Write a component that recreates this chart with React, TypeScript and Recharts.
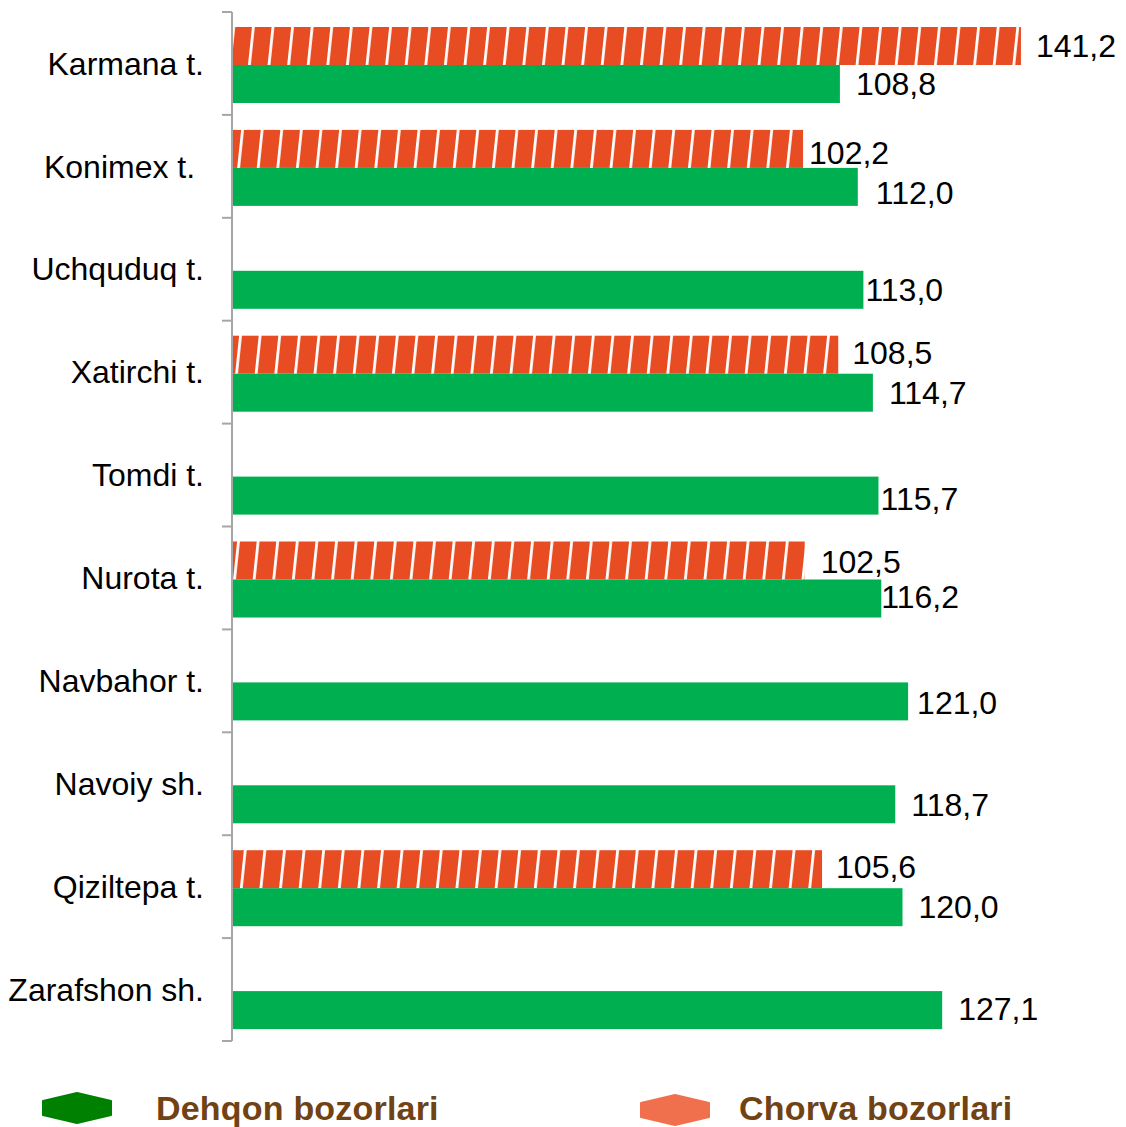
import React from "react";
import { Bar, BarChart, LabelList, Legend, XAxis, YAxis } from "recharts";

const districts = [
  "Karmana t.",
  "Konimex t.\u00A0",
  "Uchquduq t.",
  "Xatirchi t.",
  "Tomdi t.",
  "Nurota t.",
  "Navbahor t.",
  "Navoiy sh.",
  "Qiziltepa t.",
  "Zarafshon sh.",
];
const dehqon = [108.8, 112.0, 113.0, 114.7, 115.7, 116.2, 121.0, 118.7, 120.0, 127.1];
const chorva = [141.2, 102.2, null, 108.5, null, 102.5, null, null, 105.6, null];

const seriesNames = { dehqon: "Dehqon bozorlari", chorva: "Chorva bozorlari" };

// hand-moved data labels in the original, [dx, dy]
const dehqonNudge = [[2, 2], [4, 8], [-12, 2], [2, 2], [-12, 5], [-14, 0], [-5, 3], [2, 2], [2, 2], [2, 1]];
const chorvaNudge = [[1, 2], [-8, 6], [0, 0], [2, 3], [0, 0], [12, 4], [0, 0], [0, 0], [3, 3], [0, 0]];

const data = districts.map((name, i) => ({
  name,
  dehqon: dehqon[i],
  chorva: chorva[i],
}));

const FONT = "'Liberation Sans', Arial, sans-serif";
const W = 1126;
const H = 1127;
const TOP = 12;
const PLOT_BOTTOM = 1041;
const LEGEND_H = 44;
const AXIS_X = 232;
const BAND = (PLOT_BOTTOM - TOP) / districts.length;
const BAR_SHIFT = 2;

const fmt = (v: any) => (v == null ? "" : Number(v).toFixed(1).replace(".", ","));

function CategoryTick(props: any) {
  const { x, y, payload, index } = props;
  const last = index === districts.length - 1;
  return (
    <g>
      <line x1={AXIS_X - 10} x2={AXIS_X} y1={y - BAND / 2} y2={y - BAND / 2} stroke="#A6A6A6" strokeWidth={2} />
      {last && (
        <line x1={AXIS_X - 10} x2={AXIS_X} y1={y + BAND / 2} y2={y + BAND / 2} stroke="#A6A6A6" strokeWidth={2} />
      )}
      <text
        x={x}
        y={y}
        dy="0.35em"
        textAnchor="end"
        fill="#000"
        fontSize={32}
        fontFamily={FONT}
        style={{ whiteSpace: "pre" }}
      >
        {payload.value}
      </text>
    </g>
  );
}

const shiftedBar = (props: any) => {
  const { x, y, width, height, fill } = props;
  if (!width || width <= 0) return <g />;
  return <rect x={x} y={y + BAR_SHIFT} width={width} height={height} fill={fill} />;
};

const makeLabel = (nudge: number[][]) => (props: any) => {
  const { x, y, width, height, value, index } = props;
  if (value == null) return null;
  const [dx, dy] = nudge[index] || [0, 0];
  return (
    <text
      x={x + width + 14 + dx}
      y={y + height / 2 + dy}
      dy="0.35em"
      fill="#000"
      fontSize={32}
      fontFamily={FONT}
    >
      {fmt(value)}
    </text>
  );
};

function Hexagon({ color }: { color: string }) {
  return (
    <svg width={70} height={32} style={{ display: "block" }}>
      <polygon points="1,9 35,1 69,9 69,23 35,31 1,23" fill={color} stroke={color} strokeLinejoin="round" strokeWidth={2} />
    </svg>
  );
}

function LegendContent() {
  const textStyle: React.CSSProperties = {
    position: "absolute",
    fontFamily: FONT,
    fontWeight: "bold",
    fontSize: 34,
    letterSpacing: 0.2,
    color: "#704214",
    lineHeight: "32px",
    whiteSpace: "nowrap",
  };
  return (
    <div style={{ position: "relative", width: W, height: LEGEND_H }}>
      <div style={{ position: "absolute", left: 42, top: 12 }}>
        <Hexagon color="#008000" />
      </div>
      <div style={{ ...textStyle, left: 156, top: 12 }}>{seriesNames.dehqon}</div>
      <div style={{ position: "absolute", left: 640, top: 14 }}>
        <Hexagon color="#F0704E" />
      </div>
      <div style={{ ...textStyle, left: 739, top: 12 }}>{seriesNames.chorva}</div>
    </div>
  );
}

export default function App() {
  return (
    <div style={{ position: "absolute", left: 0, top: 0, width: W, height: H, background: "#fff" }}>
      <BarChart
        width={W}
        height={H}
        data={data}
        layout="vertical"
        margin={{ top: TOP, right: 0, bottom: H - PLOT_BOTTOM - LEGEND_H, left: 0 }}
        barSize={38}
        barGap={0}
      >
        <defs>
          <pattern
            id="chorvaHatch"
            patternUnits="userSpaceOnUse"
            width={19.6}
            height={40}
            patternTransform="skewX(-6)"
          >
            <rect x={0} y={0} width={19.6} height={40} fill="#E84C22" />
            <rect x={0} y={0} width={2.8} height={40} fill="#FFFFFF" />
          </pattern>
        </defs>
        <XAxis type="number" domain={[0, 160]} hide />
        <YAxis
          type="category"
          dataKey="name"
          width={AXIS_X}
          axisLine={{ stroke: "#A6A6A6", strokeWidth: 2 }}
          tickLine={false}
          tickSize={0}
          tickMargin={28}
          tick={<CategoryTick />}
          interval={0}
        />
        <Legend
          verticalAlign="bottom"
          height={LEGEND_H}
          content={() => <LegendContent />}
          wrapperStyle={{ position: "absolute", left: 0, top: 1080, width: W, height: LEGEND_H }}
        />
        <Bar
          dataKey="chorva"
          name={seriesNames.chorva}
          fill="url(#chorvaHatch)"
          shape={shiftedBar}
          isAnimationActive={false}
        >
          <LabelList dataKey="chorva" content={makeLabel(chorvaNudge)} />
        </Bar>
        <Bar dataKey="dehqon" name={seriesNames.dehqon} fill="#00B050" shape={shiftedBar} isAnimationActive={false}>
          <LabelList dataKey="dehqon" content={makeLabel(dehqonNudge)} />
        </Bar>
      </BarChart>
    </div>
  );
}
